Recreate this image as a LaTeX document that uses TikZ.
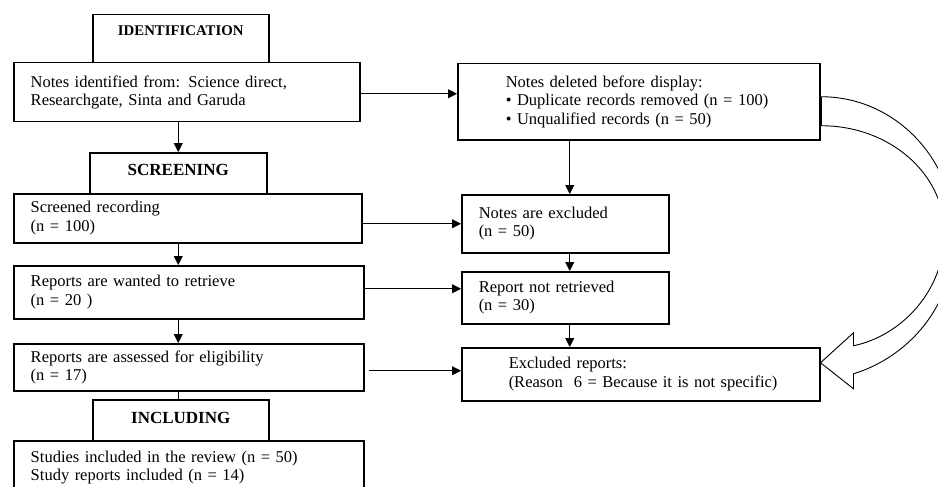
\documentclass[tikz,border=0pt]{standalone}
\usepackage{fontspec}
\setmainfont{Liberation Serif}
\usetikzlibrary{arrows.meta,calc}
\newcommand\bodyfont{\fontsize{16.5}{18.5}\selectfont}
\newcommand\ind[1]{\hspace*{#1}}
\begin{document}
\begin{tikzpicture}[x=1pt,y=-1pt,
  box/.style={draw, line width=1.5pt, anchor=north west, inner xsep=0pt, inner ysep=0pt, align=left, font=\bodyfont},
  head/.style={draw, line width=1.5pt, anchor=north west, inner xsep=0pt, inner ysep=0pt, align=center, font=\bfseries\fontsize{17}{19}\selectfont},
  arr/.style={-{Triangle[length=9pt,width=9pt]}, line width=0.9pt},
  link/.style={line width=0.9pt},
  bigarrow/.style={line width=0.9pt, fill=white, line join=miter}
]
\fill[white] (0,0) rectangle (938,487);
\useasboundingbox (0,0) rectangle (938,487);
\clip (0,0) rectangle (938,487);

% headings
\node[head, minimum width=176pt, text height=21pt, text depth=27pt, font=\bfseries\fontsize{14.8}{16}\selectfont] (hid) at (92,14) {IDENTIFICATION};
\node[head, minimum width=177pt, text height=23pt, text depth=18pt] (hsc) at (89,152) {SCREENING};
\node[head, minimum width=176pt, text height=24pt, text depth=17pt] (hin) at (92,399) {INCLUDING};

% left column
\node[box, text width=346pt, minimum height=59pt] (n1) at (13,62) {\ind{17pt}Notes identified from: Science direct,\\\ind{17pt}Researchgate, Sinta and Garuda};
\node[box, text width=348pt, minimum height=49pt] (s1) at (13,193) {\ind{17pt}Screened recording\\\ind{17pt}(n = 100)};
\node[box, text width=350pt, minimum height=53pt] (r1) at (13,265) {\ind{17pt}Reports are wanted to retrieve\\\ind{17pt}(n = 20 )};
\node[box, text width=350pt, minimum height=47pt] (a1) at (13,343) {\ind{17pt}Reports are assessed for eligibility\\\ind{17pt}(n = 17)};
\node[box, text width=350pt, minimum height=54pt] (st) at (13,440) {\ind{17pt}Studies included in the review (n = 50)\\\ind{17pt}Study reports included (n = 14)};

% right column
\node[box, text width=362pt, minimum height=76pt] (d1) at (457,63) {\ind{48pt}Notes deleted before display:\\\ind{48pt}• Duplicate records removed (n = 100)\\\ind{48pt}• Unqualified records (n = 50)};
\node[box, text width=207pt, minimum height=58pt] (e1) at (461,194) {\ind{17pt}Notes are excluded\\\ind{17pt}(n = 50)};
\node[box, text width=207pt, minimum height=52pt] (nr) at (461,271) {\ind{17pt}Report not retrieved\\\ind{17pt}(n = 30)};
\node[box, text width=358pt, minimum height=53pt] (x1) at (461,347) {\ind{47pt}Excluded reports:\\\ind{47pt}(Reason\ \ 6 = Because it is not specific)};

% horizontal arrows
\draw[arr] ([yshift=-1.5pt]n1.east) -- ([yshift=-1.5pt]n1.east -| d1.west);
\draw[arr] (e1.west -| s1.east) -- (e1.west);
\draw[arr] ([yshift=3.5pt]r1.east) -- ([yshift=3.5pt]r1.east -| nr.west);
\draw[arr, shorten <=4pt] ([yshift=-3.5pt]a1.east) -- ([yshift=-3.5pt]a1.east -| x1.west);

% vertical arrows, left
\draw[arr] (hsc.north |- n1.south) -- (hsc.north);
\draw[arr] (hsc.north |- s1.south) -- (hsc.north |- r1.north);
\draw[arr] (hsc.north |- r1.south) -- (hsc.north |- a1.north);
\draw[link] (hsc.north |- a1.south) -- (hsc.north |- hin.north);

% vertical arrows, right
\draw[arr] ([xshift=4.5pt]e1.north |- d1.south) -- ([xshift=4.5pt]e1.north);
\draw[arr] ([xshift=4.5pt]e1.south) -- ([xshift=4.5pt]nr.north);
\draw[arr] ([xshift=4.5pt]nr.south) -- ([xshift=4.5pt]nr.south |- x1.north);

% curved block arrow
\coordinate (ua) at ($(d1.east)+(1,-5)$);
\coordinate (ub) at ($(d1.east)+(1,24)$);
\coordinate (tip) at ($(x1.east)+(0,-11.5)$);
\draw[bigarrow] (ua) .. controls +(73,0) and +(0,-76) .. ($(ua)+(133,138)$)
  .. controls +(0,76) and +(50,-15) .. ($(tip)+(33,11)$)
  -- ++(0,15) -- (tip) -- ($(tip)+(33,-30)$) -- ++(0,13)
  .. controls +(48,-10) and +(0,58) .. ($(ub)+(123,107)$)
  .. controls +(0,-59) and +(68,0) .. (ub) -- cycle;
\end{tikzpicture}
\end{document}
